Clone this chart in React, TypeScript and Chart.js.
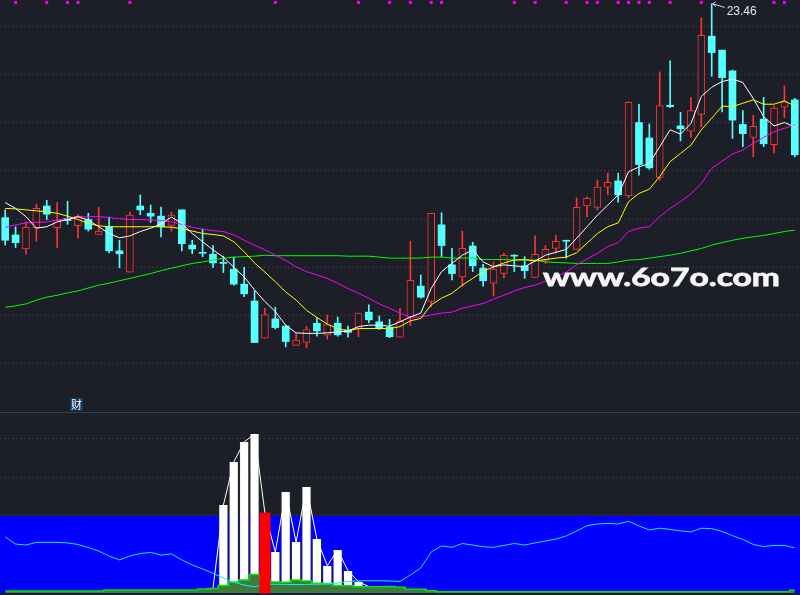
import React, { useEffect, useRef } from "react";
import { Chart, registerables } from "chart.js";

Chart.register(...registerables);

// ---------- price panel data (77 trading days) ----------
const opens = [
  19.03, 18.67, 18.38, 18.82, 19.27, 18.82, 19.01, 18.86, 18.99, 18.68,
  18.84, 18.34, 17.90, 19.27, 19.12, 19.06, 18.87, 19.19, 18.46, 18.30,
  18.27, 18.09, 17.96, 17.65, 17.30, 16.53, 16.93, 16.78, 16.38, 16.44,
  16.84, 16.59, 16.84, 16.70, 16.73, 17.07, 16.87, 16.76, 16.55, 16.96,
  17.61, 17.29, 18.88, 18.05, 17.80, 18.44, 17.98, 17.67, 17.87, 18.25,
  18.03, 17.79, 18.14, 18.39, 18.55, 18.37, 19.27, 19.24, 19.66, 19.79,
  19.48, 21.00, 20.68, 19.86, 21.36, 20.93, 20.82, 21.17, 22.79, 22.50,
  22.07, 20.96, 20.69, 21.07, 20.54, 21.32, 21.47,
];
const highs = [
  19.19, 18.84, 18.94, 19.31, 19.39, 19.34, 19.37, 19.09, 19.12, 19.24,
  19.04, 18.56, 19.14, 19.50, 19.29, 19.25, 19.14, 19.19, 18.56, 18.79,
  18.45, 18.23, 18.21, 18.00, 17.51, 17.15, 17.17, 16.80, 16.63, 16.77,
  16.95, 17.01, 16.97, 16.78, 17.05, 17.22, 16.99, 16.92, 17.15, 18.54,
  17.84, 19.12, 19.13, 18.39, 18.75, 18.52, 18.06, 18.11, 18.29, 18.26,
  18.22, 18.65, 18.45, 18.66, 18.56, 19.44, 19.46, 19.81, 19.95, 19.95,
  21.43, 21.38, 20.97, 22.05, 22.28, 21.21, 21.52, 23.17, 23.46, 22.50,
  22.09, 21.25, 21.15, 21.52, 21.34, 21.76, 21.50,
];
const lows = [
  18.46, 18.41, 18.27, 18.54, 18.99, 18.41, 18.89, 18.61, 18.75, 18.68,
  18.30, 17.99, 17.90, 19.09, 18.93, 18.63, 18.75, 18.34, 18.28, 18.22,
  17.99, 17.89, 17.63, 17.39, 16.44, 16.53, 16.72, 16.35, 16.38, 16.33,
  16.57, 16.51, 16.57, 16.55, 16.56, 16.85, 16.71, 16.54, 16.55, 16.79,
  17.36, 17.18, 18.22, 17.74, 17.61, 17.91, 17.61, 17.40, 17.78, 17.91,
  17.77, 17.79, 18.08, 18.29, 18.19, 18.37, 19.05, 19.19, 19.50, 19.35,
  19.44, 19.91, 20.03, 19.81, 21.31, 20.62, 20.69, 20.91, 21.96, 21.22,
  20.67, 20.50, 20.29, 20.50, 20.37, 21.10, 20.29,
];
const closes = [
  18.56, 18.51, 18.83, 19.22, 19.10, 18.98, 18.97, 19.06, 18.79, 18.75,
  18.34, 18.28, 19.08, 19.19, 19.06, 18.84, 19.08, 18.49, 18.38, 18.29,
  18.09, 18.08, 17.65, 17.45, 16.44, 17.02, 16.75, 16.46, 16.49, 16.71,
  16.68, 16.81, 16.60, 16.65, 17.05, 16.91, 16.73, 16.56, 16.88, 17.73,
  17.38, 19.12, 18.45, 17.87, 18.39, 18.03, 17.72, 17.96, 18.25, 18.23,
  17.93, 18.27, 18.37, 18.54, 18.54, 19.24, 19.43, 19.66, 19.76, 19.50,
  21.42, 20.13, 20.06, 21.35, 21.33, 20.87, 21.25, 22.81, 22.45, 21.93,
  21.05, 20.77, 20.92, 20.56, 21.30, 21.43, 20.33,
];
const ma5 = [
  19.34, 19.22, 19.05, 18.81, 18.84, 18.94, 18.99, 19.05, 18.98, 18.84,
  18.70, 18.61, 18.65, 18.74, 18.81, 18.90, 19.04, 18.91, 18.70, 18.53,
  18.36, 18.21, 18.00, 17.80, 17.53, 17.29, 17.08, 16.80, 16.64, 16.63,
  16.63, 16.64, 16.66, 16.68, 16.77, 16.80, 16.80, 16.78, 16.87, 16.97,
  17.05, 17.56, 17.91, 18.08, 18.25, 18.36, 18.11, 18.01, 18.05, 18.03,
  18.01, 18.13, 18.25, 18.31, 18.37, 18.60, 18.84, 19.08, 19.29, 19.50,
  19.98, 20.08, 20.15, 20.50, 20.85, 20.76, 20.98, 21.54, 21.73, 21.85,
  21.90, 21.83, 21.50, 21.12, 20.93, 21.00, 20.91,
];
const ma10 = [
  19.22, 19.21, 19.19, 19.17, 19.15, 19.12, 19.06, 18.99, 18.91, 18.86,
  18.84, 18.84, 18.84, 18.84, 18.84, 18.84, 18.83, 18.80, 18.75, 18.70,
  18.68, 18.65, 18.53, 18.32, 18.09, 17.90, 17.70, 17.49, 17.32, 17.11,
  16.96, 16.82, 16.73, 16.68, 16.73, 16.73, 16.73, 16.73, 16.77, 16.89,
  16.94, 17.22, 17.36, 17.46, 17.63, 17.77, 17.91, 18.01, 18.09, 18.15,
  18.16, 18.13, 18.16, 18.19, 18.21, 18.30, 18.50, 18.70, 18.84, 18.92,
  19.36, 19.53, 19.62, 19.88, 20.19, 20.36, 20.53, 20.85, 21.09, 21.34,
  21.33, 21.40, 21.47, 21.38, 21.38, 21.45, 21.34,
];
const ma20 = [
  18.83, 18.88, 18.92, 18.93, 18.94, 18.98, 19.01, 19.04, 19.05, 19.05,
  19.03, 19.01, 18.99, 18.99, 18.98, 18.97, 18.94, 18.89, 18.83, 18.79,
  18.76, 18.74, 18.67, 18.56, 18.46, 18.36, 18.25, 18.14, 18.01, 17.91,
  17.84, 17.77, 17.67, 17.56, 17.46, 17.36, 17.24, 17.15, 17.05, 16.97,
  16.97, 17.01, 17.05, 17.07, 17.15, 17.20, 17.25, 17.34, 17.42, 17.51,
  17.58, 17.63, 17.71, 17.80, 17.90, 18.05, 18.17, 18.29, 18.43, 18.51,
  18.74, 18.81, 18.84, 19.05, 19.22, 19.36, 19.52, 19.74, 20.05, 20.20,
  20.35, 20.43, 20.57, 20.69, 20.81, 20.88, 20.95,
];
const ma60 = [
  17.17, 17.20, 17.24, 17.32, 17.38, 17.42, 17.47, 17.51, 17.57, 17.63,
  17.67, 17.72, 17.77, 17.82, 17.87, 17.93, 17.98, 18.03, 18.08, 18.11,
  18.15, 18.19, 18.21, 18.22, 18.23, 18.25, 18.24, 18.24, 18.24, 18.24,
  18.24, 18.24, 18.24, 18.23, 18.23, 18.23, 18.21, 18.19, 18.19, 18.19,
  18.19, 18.21, 18.21, 18.19, 18.19, 18.19, 18.16, 18.16, 18.16, 18.15,
  18.15, 18.15, 18.11, 18.10, 18.09, 18.08, 18.08, 18.08, 18.08, 18.11,
  18.15, 18.16, 18.19, 18.22, 18.25, 18.29, 18.34, 18.39, 18.46, 18.51,
  18.56, 18.60, 18.63, 18.66, 18.70, 18.74, 18.77,
];
const markerIdx = [1, 4, 6, 7, 12, 26, 34, 37, 39, 41, 42, 49, 51, 54, 56, 57, 59, 60, 61, 62, 64, 67, 74, 75];
const markerLevel = 23.49;
const priceMin = 15;
const priceMax = 23.54;

// ---------- indicator panel data ----------
const indCyan = [
  29.1, 25.4, 24.9, 26.3, 26.3, 26.3, 26.0, 25.2, 23.6, 21.8,
  19.2, 17.2, 19.2, 20.5, 21.1, 19.7, 20.3, 17.2, 14.6, 12.5,
  10.3, 7.8, 5.6, 4.2, 3.3, 4.5, 4.6, 4.5, 4.4, 4.5,
  4.6, 4.7, 5.2, 6.0, 6.4, 6.4, 6.4, 6.3, 6.0, 9.4,
  13.0, 21.3, 24.4, 23.7, 25.7, 24.9, 24.0, 23.7, 24.7, 25.7,
  24.9, 26.0, 27.0, 28.0, 29.6, 32.2, 34.9, 35.8, 36.1, 35.8,
  37.2, 34.8, 32.7, 33.6, 33.0, 32.2, 31.7, 33.6, 33.4, 31.9,
  29.8, 27.8, 25.2, 24.1, 24.7, 24.7, 23.4,
];
const indGreen = [
  1.1, 1.1, 1.1, 1.1, 1.1, 1.1, 1.1, 1.1, 1.1, 1.1,
  1.6, 1.6, 1.6, 1.6, 1.6, 1.6, 1.6, 1.6, 1.6, 2.1,
  2.4, 3.9, 5.8, 6.8, 9.6, 6.8, 5.8, 5.6, 6.8, 6.3,
  5.1, 5.0, 3.9, 3.8, 3.3, 3.3, 3.3, 3.4, 3.0, 2.0,
  2.0, 1.2, 0.7, 0.7, 0.7, 0.7, 0.7, 0.7, 0.7, 0.7,
  0.7, 0.7, 0.7, 0.7, 0.7, 0.7, 0.7, 0.7, 0.7, 0.7,
  0.7, 0.7, 0.7, 0.7, 0.7, 0.7, 0.7, 0.7, 0.7, 0.7,
  0.7, 0.7, 0.7, 0.7, 0.7, 0.7, 1.5,
];
const barStart = 20;
const barValues = [2.5, 45.6, 67.9, 78.3, 82.4, 41.5, 21.3, 52.4, 26.5, 55.0, 28.0, 14.2, 22.3, 11.5, 5.9, 3.4];
const redIdx = [25];
const blueLevel = 40;
const indMin = -0.98;
const indMax = 93.3;

const labels = opens.map((_, i) => `D${i + 1}`);

const BG = "#1c1f27";
const UP = "#ff3232";
const DOWN = "#54ffff";
const GRID = "#454a56";

function TopChart() {
  const ref = useRef<HTMLCanvasElement>(null);
  useEffect(() => {
    if (!ref.current) return;
    const up = opens.map((o, i) => closes[i] >= o);
    const bodies = opens.map((o, i) => [Math.min(o, closes[i]), Math.max(o, closes[i])]);
    const wicks = lows.map((l, i) => [l, highs[i]]);
    const marks = labels.map((_, i) => (markerIdx.includes(i) ? markerLevel : null));
    let peak = 0;
    highs.forEach((h, i) => { if (h > highs[peak]) peak = i; });

    const annot = {
      id: "annot",
      afterDraw(chart: any) {
        const { ctx, scales } = chart;
        const x = scales.x.getPixelForValue(peak);
        const y = scales.y.getPixelForValue(highs[peak]);
        ctx.save();
        ctx.strokeStyle = "#d8d8d8";
        ctx.lineWidth = 1;
        ctx.beginPath();
        ctx.moveTo(x + 1, y);
        ctx.lineTo(x + 13, y + 3.5);
        ctx.moveTo(x + 1, y);
        ctx.lineTo(x + 4, y - 2);
        ctx.moveTo(x + 1, y);
        ctx.lineTo(x + 4, y + 2.5);
        ctx.stroke();
        ctx.fillStyle = "#e6e6e6";
        ctx.font = "12px 'Liberation Sans', Arial, sans-serif";
        ctx.textBaseline = "alphabetic";
        ctx.fillText(highs[peak].toFixed(2), x + 15, y + 11);

        // watermark
        const text = "www.6o7o.com";
        ctx.font = "bold 25px Lato, 'DejaVu Sans', sans-serif";
        const w = ctx.measureText(text).width;
        ctx.translate(543, 286);
        ctx.scale(237 / w, 1);
        ctx.fillStyle = "#f6f6f6";
        ctx.strokeStyle = "#f6f6f6";
        ctx.lineWidth = 0.8;
        ctx.fillText(text, 0, 0);
        ctx.strokeText(text, 0, 0);
        ctx.restore();
      },
    };

    const chart = new Chart(ref.current, {
      type: "bar",
      data: {
        labels,
        datasets: [
          { type: "line", label: "MA5", data: ma5, borderColor: "#ffffff", borderWidth: 1, pointRadius: 0, order: 1 } as any,
          { type: "line", label: "MA10", data: ma10, borderColor: "#ffff00", borderWidth: 1, pointRadius: 0, order: 1 },
          { type: "line", label: "MA20", data: ma20, borderColor: "#ff00ff", borderWidth: 1, pointRadius: 0, order: 1 },
          { type: "line", label: "MA60", data: ma60, borderColor: "#00ff00", borderWidth: 1, pointRadius: 0, order: 1 },
          {
            type: "line", label: "marks", data: marks, showLine: false, pointStyle: "rect",
            pointRadius: 2.1, pointBackgroundColor: "#ff00ff", pointBorderWidth: 0, order: 0,
          },
          {
            type: "bar", label: "body", data: bodies,
            backgroundColor: up.map((u) => (u ? BG : DOWN)),
            borderColor: up.map((u) => (u ? UP : DOWN)),
            borderWidth: up.map((u) => (u ? 1 : 0)),
            borderSkipped: false, barThickness: 7, grouped: false, minBarLength: 1, order: 5,
          },
          {
            type: "bar", label: "wick", data: wicks,
            backgroundColor: up.map((u) => (u ? UP : DOWN)),
            barThickness: 1, grouped: false, order: 6,
          },
        ],
      } as any,
      options: {
        responsive: false,
        animation: false,
        devicePixelRatio: 1,
        events: [],
        layout: { padding: 0, autoPadding: false },
        plugins: { legend: { display: false }, tooltip: { enabled: false } },
        scales: {
          x: { type: "category", display: false, offset: true },
          y: {
            min: priceMin, max: priceMax, display: true,
            ticks: { display: false, stepSize: 1 },
            grid: {
              drawTicks: false,
              lineWidth: 1,
              color: (c: any) => (c.tick && Number.isInteger(c.tick.value) && c.tick.value > priceMin ? GRID : "transparent"),
            },
            border: { display: false, dash: [1, 3] },
            afterFit: (s: any) => { s.width = 0; },
          },
        },
      } as any,
      plugins: [annot],
    });
    return () => chart.destroy();
  }, []);
  return <canvas ref={ref} width={800} height={412} style={{ position: "absolute", left: 0, top: 0 }} />;
}

function BottomChart() {
  const ref = useRef<HTMLCanvasElement>(null);
  useEffect(() => {
    if (!ref.current) return;
    const bars = labels.map((_, i) =>
      i >= barStart && i < barStart + barValues.length ? barValues[i - barStart] : null
    );
    const reds = labels.map((_, i) => (redIdx.includes(i) ? bars[i] : null));

    const band = {
      id: "band",
      beforeDatasetsDraw(chart: any) {
        const { ctx, scales } = chart;
        const y1 = scales.y.getPixelForValue(blueLevel);
        const y0 = scales.y.getPixelForValue(0);
        ctx.save();
        ctx.fillStyle = "#0000ff";
        ctx.fillRect(0, y1, chart.width, y0 - y1);
        ctx.restore();
      },
    };

    const chart = new Chart(ref.current, {
      type: "bar",
      data: {
        labels,
        datasets: [
          {
            type: "bar", label: "vol", data: bars, backgroundColor: "#ffffff", borderColor: "#2a2a2a",
            borderWidth: { left: 1, right: 1, top: 0, bottom: 0 }, borderSkipped: false,
            barPercentage: 0.98, categoryPercentage: 1, grouped: false, order: 5,
          },
          { type: "line", label: "volLine", data: bars, borderColor: "#ffffff", borderWidth: 1, pointRadius: 0, spanGaps: false, order: 4 },
          {
            type: "line", label: "green", data: indGreen, borderColor: "#00e400", borderWidth: 1.5,
            backgroundColor: "#3c7b3c", fill: "origin", pointRadius: 0, stepped: "middle", order: 3,
          },
          { type: "line", label: "cyan", data: indCyan, borderColor: "#1ee8f0", borderWidth: 1, pointRadius: 0, order: 2 },
          {
            type: "bar", label: "red", data: reds, backgroundColor: "#ff0000",
            barPercentage: 1, categoryPercentage: 1, grouped: false, order: 1,
          },
        ],
      } as any,
      options: {
        responsive: false,
        animation: false,
        devicePixelRatio: 1,
        events: [],
        layout: { padding: 0, autoPadding: false },
        plugins: { legend: { display: false }, tooltip: { enabled: false } },
        scales: {
          x: { type: "category", display: false, offset: true },
          y: {
            min: indMin, max: indMax, display: true,
            ticks: { display: false, stepSize: 20 },
            grid: {
              drawTicks: false,
              lineWidth: 1,
              color: (c: any) => (c.tick && [20, 40, 60, 80].includes(c.tick.value) ? GRID : "transparent"),
            },
            border: { display: false, dash: [1, 3] },
            afterFit: (s: any) => { s.width = 0; },
          },
        },
      } as any,
      plugins: [band],
    });
    return () => chart.destroy();
  }, []);
  return <canvas ref={ref} width={800} height={182} style={{ position: "absolute", left: 0, top: 413 }} />;
}

export default function App() {
  return (
    <div style={{ position: "fixed", left: 0, top: 0, width: 800, height: 595, background: BG, overflow: "hidden" }}>
      <TopChart />
      <div style={{ position: "absolute", left: 0, top: 412, width: 800, height: 1, background: "#39404a" }} />
      <BottomChart />
      <div
        style={{
          position: "absolute", left: 70, top: 398, width: 13, height: 13, background: "#0d3a66",
          color: "#ffffff", fontSize: 11, lineHeight: "13px", textAlign: "center",
          fontFamily: "'Noto Sans CJK SC', sans-serif",
        }}
      >
        财
      </div>
    </div>
  );
}
